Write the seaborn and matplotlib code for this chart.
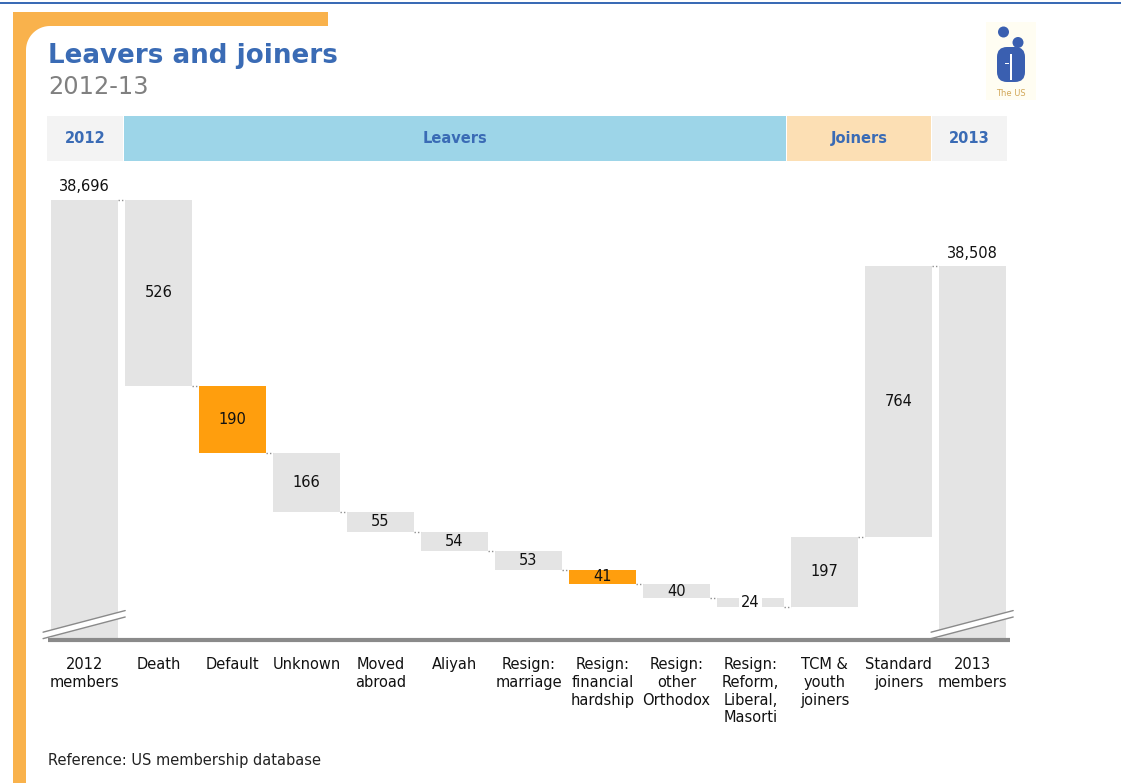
import numpy as np
import pandas as pd
import matplotlib
matplotlib.use("Agg")
import matplotlib.pyplot as plt
from matplotlib.patches import Rectangle, Polygon, Circle, FancyBboxPatch
from matplotlib.transforms import Affine2D, blended_transform_factory
import seaborn as sns

# ---- data -------------------------------------------------------------
categories = [
    "2012\nmembers", "Death", "Default", "Unknown", "Moved\nabroad", "Aliyah",
    "Resign:\nmarriage", "Resign:\nfinancial\nhardship", "Resign:\nother\nOrthodox",
    "Resign:\nReform,\nLiberal,\nMasorti", "TCM &\nyouth\njoiners",
    "Standard\njoiners", "2013\nmembers",
]
start_total = 38696
end_total = 38508
leaver_values = [526, 190, 166, 55, 54, 53, 41, 40, 24]
joiner_values = [197, 764]
highlighted = ["Default", "Resign:\nfinancial\nhardship"]

header_labels = ["2012", "Leavers", "Joiners", "2013"]
title = "Leavers and joiners"
subtitle = "2012-13"
source_note = "Reference: US membership database"

# ---- style ------------------------------------------------------------
W, H = 1121, 783
GREY = "#e4e4e4"
ORANGE = "#ff9e0d"
BLUE = "#3a6bb5"
FRAME = "#f9b24c"
TEXT = "#111111"

sns.set_theme(style="white")
plt.rcParams["font.family"] = ["DejaVu Sans"]

# ---- waterfall layout from the values ---------------------------------
heights, bottoms, levels = [start_total], [0], [start_total]
level = start_total
for v in leaver_values:
    level -= v
    heights.append(v)
    bottoms.append(level)
    levels.append(level)
for v in joiner_values:
    heights.append(v)
    bottoms.append(level)
    level += v
    levels.append(level)
heights.append(end_total)
bottoms.append(0)

df = pd.DataFrame({"category": categories, "change": heights, "base": bottoms})

fig = plt.figure(figsize=(W / 100, H / 100), dpi=100)
px = Affine2D().scale(1 / W, -1 / H).translate(0, 1) + fig.transFigure

ax = fig.add_axes([47.5 / W, 1 - 640 / H, 962 / W, 460 / H])
ax.set_facecolor("none")

sns.barplot(
    data=df, x="category", y="change", order=categories,
    bottom=df["base"].to_numpy(), width=0.9, color=GREY, saturation=1,
    errorbar=None, linewidth=0, ax=ax,
)
for patch, cat in zip(ax.patches, categories):
    if cat in highlighted:
        patch.set_facecolor(ORANGE)

ymin, ymax = 37453, 38752
ax.set_ylim(ymin, ymax)
ax.set_xlim(-0.5, 12.5)
sns.despine(ax=ax, left=True, bottom=True, top=True, right=True)
ax.set_yticks([])
ax.set_xlabel("")
ax.set_ylabel("")
ax.grid(False)
ax.tick_params(axis="x", length=0, pad=12.5, labelsize=10.5, colors=TEXT)
for lab in ax.get_xticklabels():
    lab.set_linespacing(1.22)

# step connectors between neighbouring bars
for i, lv in enumerate(levels[: len(categories) - 1]):
    ax.plot([i + 0.45, i + 0.55], [lv, lv], color="#8f8f8f", lw=1,
            ls=(0, (1, 1.5)), zorder=3)

# value labels
for i in range(1, len(categories) - 1):
    val = heights[i]
    kw = {}
    if val < 30:
        kw["bbox"] = dict(boxstyle="square,pad=0.15", fc="white", ec="none")
    ax.text(i, bottoms[i] + val / 2, f"{val}", ha="center", va="center",
            fontsize=10.5, color=TEXT, zorder=4, **kw)
for i, tot in ((0, start_total), (len(categories) - 1, end_total)):
    ax.annotate(f"{tot:,}", (i, tot), xytext=(0, 4), textcoords="offset points",
                ha="center", va="bottom", fontsize=10.5, color=TEXT)

# axis baseline
ax.plot([-0.5, 12.5], [ymin, ymin], color="#8a8a8a", lw=3, clip_on=False,
        solid_capstyle="butt", zorder=5)

# broken-axis marks on the two total bars
bt = blended_transform_factory(ax.transData, ax.transAxes)
for i in (0, len(categories) - 1):
    x0, x1 = i - 0.56, i + 0.55
    y0, rise, gap = 0.003, 0.047, 0.014
    ax.add_patch(Polygon([(x0, y0), (x1, y0 + rise), (x1, y0 + rise + gap),
                          (x0, y0 + gap)], closed=True, fc="white", ec="none",
                         transform=bt, clip_on=False, zorder=4))
    for off in (0, gap):
        ax.plot([x0, x1], [y0 + off, y0 + rise + off], color="#8a8a8a", lw=1,
                transform=bt, clip_on=False, zorder=4)

# ---- header band ------------------------------------------------------
cells = [(47, 123, "#f3f3f3"), (124, 786, "#9dd5e8"), (787, 931, "#fcdfb4"),
         (932, 1007, "#f3f3f3")]
for (xa, xb, col), lab in zip(cells, header_labels):
    fig.add_artist(Rectangle((xa, 116), xb - xa, 44.5, transform=px, fc=col,
                             ec="none", zorder=1))
    fig.text((xa + xb) / 2, 138.5, lab, transform=px, ha="center", va="center",
             fontsize=10.5, fontweight="bold", color=BLUE, zorder=3)

# ---- page frame -------------------------------------------------------
fig.add_artist(Rectangle((0, 1.5), W, 2.2, transform=px, fc=BLUE, ec="none"))
r = 24
arc = np.linspace(np.pi / 2, np.pi, 20)
frame_pts = [(13, H), (13, 12), (328, 12), (328, 26), (26 + r, 26)] + \
    [(26 + r + r * np.cos(a), 26 + r - r * np.sin(a)) for a in arc] + [(26, H)]
fig.add_artist(Polygon(frame_pts, closed=True, transform=px, fc=FRAME, ec="none",
                       zorder=1))

# ---- titles -----------------------------------------------------------
fig.text(48, 63, title, transform=px, ha="left", va="baseline", fontsize=18.8,
         fontweight="bold", color=BLUE)
fig.text(48, 94, subtitle, transform=px, ha="left", va="baseline", fontsize=17.3,
         color="#808080")
fig.text(48, 765, source_note, transform=px, ha="left", va="baseline",
         fontsize=10.5, color="#222222")

# ---- logo -------------------------------------------------------------
LOGO = "#3a5fb0"
fig.add_artist(Rectangle((986, 22), 50, 78, transform=px, fc="#fffdf2", ec="none"))
fig.add_artist(Circle((1003.5, 32), 5.5, transform=px, fc=LOGO, ec="none"))
fig.add_artist(Circle((1018, 42.5), 5.5, transform=px, fc=LOGO, ec="none"))
fig.add_artist(FancyBboxPatch((997, 47), 28, 35, boxstyle="round,pad=0,rounding_size=10",
                              transform=px, fc=LOGO, ec="none"))
fig.add_artist(Rectangle((1010.3, 54), 1.6, 26, transform=px, fc="white", ec="none"))
fig.add_artist(Rectangle((1005, 63), 4, 1.4, transform=px, fc="white", ec="none"))
fig.text(1010.5, 93, "The US", transform=px, ha="center", va="center", fontsize=6,
         color="#d2a85a")

fig.savefig("out.png", dpi=100, facecolor="white")
